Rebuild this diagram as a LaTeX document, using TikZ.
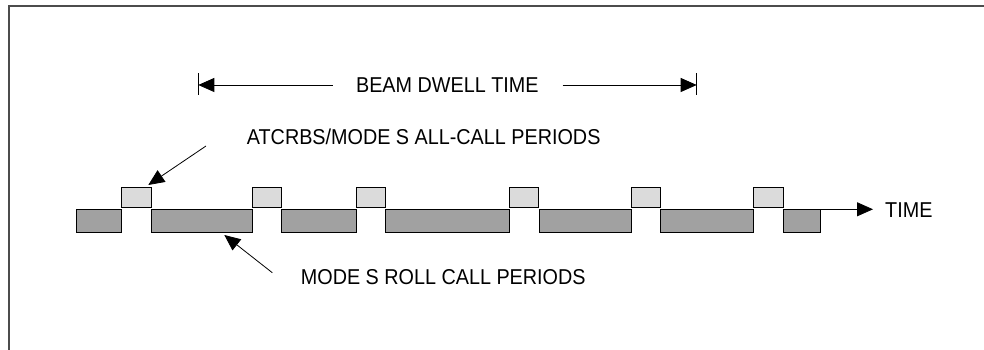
\documentclass[tikz,border=0pt]{standalone}
\usepackage{fontspec}
\setmainfont[FakeStretch=0.92]{Liberation Sans}
\usetikzlibrary{arrows.meta}
\begin{document}
\begin{tikzpicture}[x=1pt,y=1pt,
  frame/.style={line width=2pt, draw=black!70},
  lbox/.style={draw=black, line width=0.9pt, fill=black!14, anchor=south west, inner sep=0pt, outer sep=0pt, minimum height=20pt},
  dbox/.style={draw=black, line width=0.9pt, fill=black!37, anchor=south west, inner sep=0pt, outer sep=0pt, minimum height=23pt},
  lbl/.style={font=\fontsize{21.5}{25}\selectfont, inner sep=0pt, text height=15.4pt, text depth=0pt},
  arr/.style={line width=0.8pt, -{Triangle[length=16pt,width=14pt]}},
  tick/.style={line width=0.8pt}
]
\useasboundingbox (0,0) rectangle (984,350);
% frame (top and left only)
\draw[frame] (9,0) -- (9,344) -- (984,344);

% dark (roll call) boxes
\node[dbox, minimum width=45.7pt]  (d1) at (76,117.7) {};
\node[dbox, minimum width=101.3pt] (d2) at (151,117.7) {};
\node[dbox, minimum width=75pt]    (d3) at (281.3,117.7) {};
\node[dbox, minimum width=123.3pt] (d4) at (385.7,117.7) {};
\node[dbox, minimum width=92.7pt]  (d5) at (539,117.7) {};
\node[dbox, minimum width=93.4pt]  (d6) at (660.3,117.7) {};
\node[dbox, minimum width=37.7pt]  (d7) at (783,117.7) {};

% light (all-call) boxes
\node[lbox, minimum width=29.3pt] (l1) at (121.7,142.3) {};
\node[lbox, minimum width=29pt]   (l2) at (252.3,142.3) {};
\node[lbox, minimum width=29.4pt] (l3) at (356.3,142.3) {};
\node[lbox, minimum width=29.4pt] (l4) at (509.3,142.3) {};
\node[lbox, minimum width=28.6pt] (l5) at (631.7,142.3) {};
\node[lbox, minimum width=29.3pt] (l6) at (753.7,142.3) {};

% time axis
\coordinate (tend) at (873,140.7);
\draw[arr] (l6.south east) ++(0,-1.6) coordinate (tstart) -- (tend);
\node[lbl, anchor=west] (time) at (885,140) {TIME};

% beam dwell time
\node[lbl] (beam) at (447.3,265) {BEAM DWELL TIME};
\coordinate (bl) at (198.3,265);
\coordinate (br) at (696.7,265);
\draw[tick] (198.3,255) -- (198.3,277.3);
\draw[tick] (696.7,255) -- (696.7,277.3);
\draw[arr] (332.7,265) coordinate (bls) -- (bl);
\draw[arr] (562.7,265) coordinate (brs) -- (br);

% all-call label
\node[lbl, anchor=west] (acl) at (246.7,213.3) {ATCRBS/MODE S ALL-CALL PERIODS};
\coordinate (acs) at (206,204);
\coordinate (act) at (148.3,165);
\draw[arr] (acs) -- (act);

% roll call label
\node[lbl, anchor=west] (rcl) at (300.7,73.3) {MODE S ROLL CALL PERIODS};
\coordinate (rcs) at (272.3,77.3);
\coordinate (rct) at (224.3,115);
\draw[arr] (rcs) -- (rct);
\end{tikzpicture}
\end{document}
